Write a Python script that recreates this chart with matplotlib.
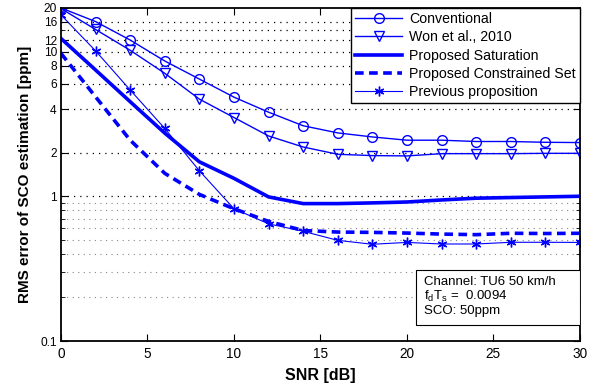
import matplotlib
matplotlib.use("Agg")
import matplotlib.pyplot as plt
from matplotlib.patches import Rectangle

plt.rcParams['font.family'] = ['Liberation Sans', 'DejaVu Sans']
plt.rcParams['mathtext.default'] = 'regular'

snr = [0, 2, 4, 6, 8, 10, 12, 14, 16, 18, 20, 22, 24, 26, 28, 30]
conventional = [20.0, 16.1, 12.0, 8.6, 6.45, 4.84, 3.81, 3.07, 2.74, 2.57, 2.44, 2.44, 2.39, 2.39, 2.36, 2.35]
won2010 = [19.8, 14.2, 10.2, 7.07, 4.69, 3.5, 2.61, 2.19, 1.95, 1.91, 1.90, 1.97, 1.97, 1.97, 1.98, 1.98]
saturation = [12.3, 7.45, 4.5, 2.73, 1.73, 1.33, 0.99, 0.89, 0.89, 0.90, 0.913, 0.943, 0.97, 0.98, 0.99, 1.0]
constrained = [9.7, 4.86, 2.44, 1.44, 1.03, 0.82, 0.67, 0.58, 0.566, 0.563, 0.557, 0.548, 0.543, 0.555, 0.553, 0.555]
previous = [17.9, 10.1, 5.42, 2.94, 1.5, 0.82, 0.645, 0.573, 0.496, 0.466, 0.48, 0.468, 0.468, 0.481, 0.481, 0.48]

ytick_vals = [0.1, 1, 2, 4, 6, 8, 10, 12, 16, 20]
ytick_labels = ['0.1', '1', '2', '4', '6', '8', '10', '12', '16', '20']
xtick_vals = [0, 5, 10, 15, 20, 25, 30]
major_grid = [1, 2, 4, 6, 8, 10, 12, 14, 16]
minor_grid = [0.2, 0.3, 0.4, 0.5, 0.6, 0.7, 0.8, 0.9]

fig = plt.figure(figsize=(5.93, 3.90), dpi=100)
ax = fig.add_axes([0.1029, 0.1256, 0.875, 0.854])
blue = (0, 0, 1)

for g in minor_grid:
    ax.axhline(g, color='#888888', linestyle=(0, (1, 4)), linewidth=0.8, zorder=0)
for g in major_grid:
    ax.axhline(g, color='black', linestyle=(0, (1, 4)), linewidth=0.9, zorder=0)

star = (6, 2, 0)
ax.plot(snr, conventional, color=blue, lw=1.0, marker='o', ms=7, mfc='none', mec=blue, mew=1.0, label='Conventional')
ax.plot(snr, won2010, color=blue, lw=1.0, marker='v', ms=7, mfc='none', mec=blue, mew=1.0, label='Won et al., 2010')
ax.plot(snr, saturation, color=blue, lw=2.6, label='Proposed Saturation')
ax.plot(snr, constrained, color=blue, lw=2.6, linestyle=(0, (2.4, 1.5)), label='Proposed Constrained Set')
ax.plot(snr, previous, color=blue, lw=0.8, marker=star, ms=7, mec=blue, mew=1.0, label='Previous proposition')

ax.set_yscale('log')
ax.set_xlim(0, 30)
ax.set_ylim(0.1, 20)
ax.set_yticks(ytick_vals)
ax.set_yticklabels(ytick_labels)
ax.yaxis.set_minor_locator(matplotlib.ticker.FixedLocator(minor_grid + [14]))
ax.yaxis.set_minor_formatter(matplotlib.ticker.NullFormatter())
ax.set_xticks(xtick_vals)
ax.tick_params(axis='both', which='both', direction='in', top=True, right=True, pad=4)
ax.tick_params(axis='x', which='major', labelsize=9.8)
ax.tick_params(axis='y', which='major', pad=3, labelsize=8.6)
ax.tick_params(which='major', length=5, width=0.8)
ax.tick_params(which='minor', length=3, width=0.6)
for s in ax.spines.values():
    s.set_linewidth(1.3)

ax.set_xlabel('SNR [dB]', fontsize=11.5, fontweight='bold', labelpad=5)
ax.set_ylabel('RMS error of SCO estimation [ppm]', fontsize=11, fontweight='bold', labelpad=6)

leg = ax.legend(loc='upper right', fontsize=10.2, handlelength=3.3, labelspacing=0.3,
                borderaxespad=0, fancybox=False, framealpha=1, edgecolor='black',
                borderpad=0.3, handletextpad=0.5)
leg.get_frame().set_linewidth(1.0)

ax.add_patch(Rectangle((0.684, 0.048), 0.316, 0.165, transform=ax.transAxes,
                       facecolor='white', edgecolor='black', lw=0.8, zorder=5))
ax.text(0.7, 0.195, 'Channel: TU6 50 km/h\n$f_dT_s$ =  0.0094\nSCO: 50ppm',
        transform=ax.transAxes, fontsize=9.5, va='top', ha='left', zorder=6, linespacing=1.1)

fig.savefig('out.png', dpi=100)
